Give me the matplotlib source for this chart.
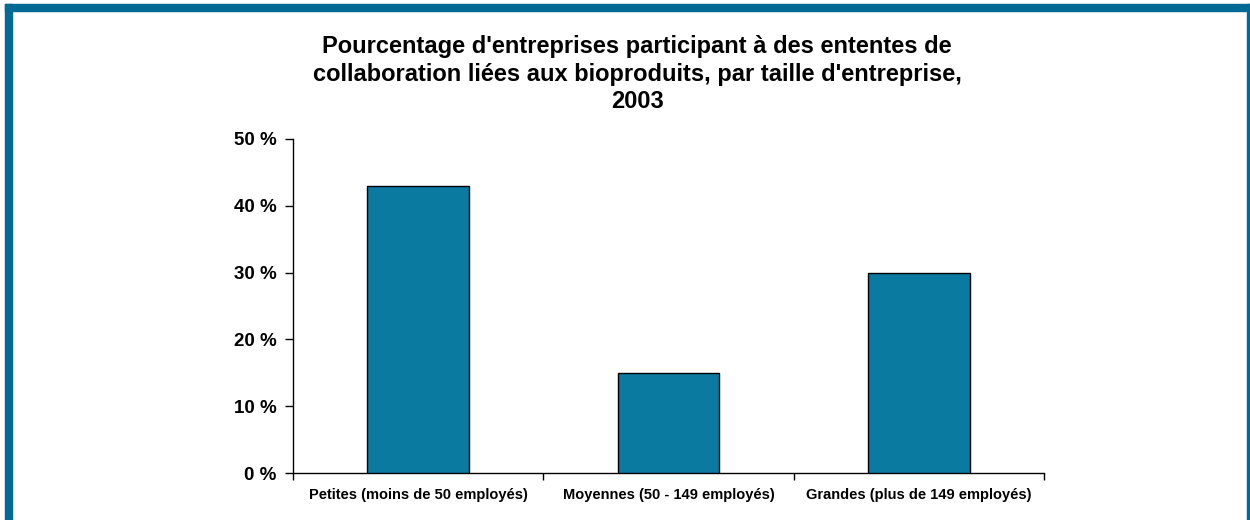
import matplotlib
matplotlib.use("Agg")
import matplotlib.pyplot as plt
from matplotlib.patches import Rectangle

categories = ["Petites (moins de 50 employés)", "Moyennes (50 - 149 employés)", "Grandes (plus de 149 employés)"]
values = [43, 15, 30]
yticks = [0, 10, 20, 30, 40, 50]
ytick_labels = ["0 %", "10 %", "20 %", "30 %", "40 %", "50 %"]
title = "Pourcentage d'entreprises participant à des ententes de\ncollaboration liées aux bioproduits, par taille d'entreprise,\n2003"

plt.rcParams['font.family'] = ['Liberation Sans', 'DejaVu Sans']

W, H = 1250, 520
fig = plt.figure(figsize=(W/100, H/100), dpi=100)
fig.patch.set_facecolor("white")

frame = "#006A94"
def px_rect(x0, y0, x1, y1):
    fig.patches.append(Rectangle((x0/W, 1-y1/H), (x1-x0)/W, (y1-y0)/H,
                                 transform=fig.transFigure, color=frame, zorder=0))
px_rect(5, 4, 1250, 11)
px_rect(5, 4, 12, 520)
px_rect(1247, 4, 1250, 520)

ax = fig.add_axes([293/W, 1-473/H, (1044-293)/W, (473-139)/H])
x = list(range(len(categories)))
ax.bar(x, values, width=0.405, color="#0B7AA1", edgecolor="black", linewidth=1.0, zorder=3)
ax.set_xlim(-0.5, 2.5)
ax.set_ylim(0, 50)
ax.set_yticks(yticks)
ax.set_yticklabels(ytick_labels, fontsize=13.5, fontweight="bold")
ax.tick_params(axis="y", direction="out", length=6, width=1, pad=6)

ax.set_xticks([-0.5, 0.5, 1.5, 2.5])
ax.set_xticklabels([])
ax.tick_params(axis="x", direction="out", length=5, width=1)
ax.set_xticks(x, minor=True)
ax.set_xticklabels(categories, minor=True, fontsize=10.5, fontweight="bold")
ax.tick_params(axis="x", which="minor", length=0, pad=11)

for s in ["top", "right"]:
    ax.spines[s].set_visible(False)
for s in ["left", "bottom"]:
    ax.spines[s].set_linewidth(1.0)
    ax.spines[s].set_color("black")

fig.text(637/W, 1-35/H, title, ha="center", va="top", fontsize=17,
         fontweight="bold", linespacing=1.25)

fig.savefig("out.png", dpi=100)
